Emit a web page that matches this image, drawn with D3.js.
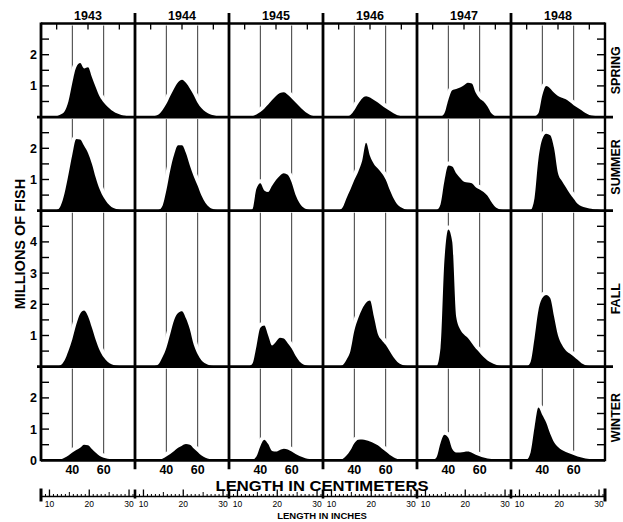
<!DOCTYPE html>
<html><head><meta charset="utf-8">
<script src="https://cdn.jsdelivr.net/npm/d3@7"></script>
<style>body{margin:0;background:#fff} svg{display:block}</style>
</head><body>
<svg id="c" width="623" height="522"></svg>
<script>
// ---------- DATA ----------
const years = ["1943","1944","1945","1946","1947","1948"];
const seasons = ["SPRING","SUMMER","FALL","WINTER"];
const seasonMax = [3,3,5,3];                       // millions of fish, axis top
const yTickLabels = [[1,2],[1,2],[1,2,3,4],[0,1,2]];
const cmTickLabels = [40,60];
const inchTickLabels = [10,20,30];
const lengthsCm = [20,22.5,25,27.5,30,32.5,35,37.5,40,42.5,45,47.5,50,52.5,55,57.5,60,62.5,65,67.5,70,72.5,75,77.5,80];

// millions of fish at each length, one row per year (1943..1948)
const spring = [
  [0,0,0,0.01,0.03,0.08,0.18,0.5,1.1,1.6,1.73,1.56,1.6,1.28,0.95,0.65,0.47,0.33,0.22,0.14,0.09,0.05,0.03,0.01,0],
  [0,0,0,0,0.01,0.03,0.08,0.22,0.42,0.68,0.92,1.12,1.2,1.1,0.92,0.7,0.45,0.28,0.17,0.1,0.06,0.03,0.01,0,0],
  [0,0,0,0,0,0.01,0.03,0.08,0.16,0.27,0.4,0.55,0.68,0.77,0.8,0.72,0.6,0.47,0.34,0.22,0.12,0.05,0.02,0,0],
  [0,0,0,0,0,0,0.02,0.07,0.22,0.43,0.6,0.67,0.63,0.55,0.47,0.37,0.28,0.2,0.12,0.06,0.03,0.01,0,0,0],
  [0,0,0,0,0,0,0.01,0.12,0.55,0.86,0.9,0.95,1.02,1.1,1.08,0.78,0.6,0.5,0.34,0.12,0.03,0.01,0,0,0],
  [0,0,0,0,0,0,0.02,0.12,0.7,1.0,0.92,0.78,0.68,0.62,0.57,0.48,0.38,0.3,0.22,0.13,0.07,0.04,0.02,0.01,0]
];
const summer = [
  [0,0,0,0,0.02,0.15,0.55,1.15,1.8,2.3,2.28,2.08,1.85,1.5,1.05,0.68,0.42,0.24,0.12,0.06,0.03,0.01,0,0,0],
  [0,0,0,0,0,0,0.02,0.15,0.65,1.3,1.8,2.1,2.1,1.85,1.45,1.1,0.8,0.48,0.25,0.11,0.05,0.02,0,0,0],
  [0,0,0,0,0,0,0.05,0.7,0.88,0.65,0.6,0.8,0.98,1.12,1.2,1.15,0.9,0.5,0.25,0.1,0.04,0.01,0,0,0],
  [0,0,0,0,0.01,0.1,0.4,0.68,0.98,1.25,1.6,2.18,1.75,1.5,1.35,1.2,1.0,0.68,0.4,0.2,0.1,0.04,0.01,0,0],
  [0,0,0,0,0,0.02,0.2,0.95,1.45,1.42,1.2,1.05,0.93,0.9,0.88,0.75,0.68,0.6,0.48,0.28,0.12,0.05,0.02,0,0],
  [0,0,0,0,0,0.02,0.4,1.65,2.3,2.47,2.42,2.0,1.2,0.95,0.75,0.55,0.38,0.22,0.14,0.1,0.07,0.05,0.04,0.02,0]
];
const fall = [
  [0,0,0,0,0.01,0.05,0.2,0.5,0.88,1.35,1.7,1.8,1.62,1.25,0.85,0.52,0.3,0.16,0.08,0.04,0.02,0.01,0,0,0],
  [0,0,0,0,0,0.02,0.08,0.3,0.6,1.05,1.5,1.72,1.78,1.55,1.2,0.7,0.4,0.2,0.1,0.05,0.02,0.01,0,0,0],
  [0,0,0,0,0,0.01,0.1,0.65,1.25,1.32,1.0,0.68,0.8,0.93,0.9,0.75,0.58,0.35,0.17,0.07,0.03,0.01,0,0,0],
  [0,0,0,0,0.01,0.05,0.22,0.5,1.15,1.55,1.85,2.05,2.12,1.6,1.05,0.85,0.7,0.5,0.3,0.15,0.07,0.03,0.01,0,0],
  [0,0,0,0,0,0.02,0.6,3.4,4.4,4.0,1.6,1.2,1.03,0.92,0.75,0.58,0.45,0.31,0.2,0.13,0.07,0.03,0.01,0,0],
  [0,0,0,0,0.01,0.15,0.9,1.8,2.2,2.3,2.2,1.6,1.0,0.7,0.52,0.42,0.33,0.22,0.11,0.05,0.02,0.01,0,0,0]
];
const winter = [
  [0,0,0,0,0.01,0.03,0.08,0.15,0.25,0.33,0.4,0.5,0.48,0.36,0.24,0.14,0.08,0.05,0.03,0.02,0.01,0,0,0,0],
  [0,0,0,0,0,0,0.01,0.05,0.12,0.2,0.3,0.4,0.47,0.52,0.5,0.38,0.27,0.15,0.08,0.04,0.02,0.01,0,0,0],
  [0,0,0,0,0,0,0.02,0.12,0.45,0.66,0.52,0.3,0.28,0.33,0.37,0.35,0.28,0.2,0.14,0.09,0.05,0.03,0.01,0,0],
  [0,0,0,0,0.01,0.04,0.15,0.32,0.55,0.66,0.67,0.64,0.6,0.55,0.48,0.38,0.28,0.18,0.1,0.04,0.02,0.01,0,0,0],
  [0,0,0,0,0.01,0.1,0.55,0.82,0.72,0.36,0.25,0.25,0.27,0.28,0.24,0.18,0.13,0.09,0.06,0.04,0.02,0.01,0,0,0],
  [0,0,0,0,0.02,0.25,1.05,1.69,1.45,1.2,0.85,0.58,0.43,0.33,0.27,0.22,0.17,0.12,0.09,0.06,0.04,0.02,0.01,0,0]
];
const seasonValues = [spring, summer, fall, winter];

// ---------- LAYOUT ----------
const L = 41, R = 605, T = 23.5, pxPerM = 31.2;
const FONT = "'Liberation Sans', Arial, sans-serif";
const svg = d3.select("#c");

const xCol = d3.scaleBand().domain(years).range([L, R]);
const colW = xCol.bandwidth();
const xCm = d3.scaleLinear().domain([20, 80]).range([0, colW]);
const inchToCm = 2.54;

const rowTops = [];
{ let acc = T; seasonMax.forEach(m => { rowTops.push(acc); acc += m * pxPerM; }); }
const yScales = seasons.map((s, i) =>
  d3.scaleLinear().domain([0, seasonMax[i]]).range([rowTops[i] + seasonMax[i] * pxPerM, rowTops[i]]));
const bottomY = yScales[3](0);

// ---------- PANELS ----------
seasons.forEach((s, i) => {
  const y = yScales[i];
  years.forEach((yr, j) => {
    const g = svg.append("g").attr("transform", `translate(${xCol(yr)},0)`);
    g.selectAll("line.grid").data(cmTickLabels).join("line")
      .attr("x1", d => xCm(d)).attr("x2", d => xCm(d))
      .attr("y1", y.range()[1] + 2).attr("y2", y(0))
      .attr("stroke", "#222").attr("stroke-width", 0.9);
    const area = d3.area()
      .x((d, k) => xCm(lengthsCm[k]))
      .y0(y(0)).y1(d => y(d))
      .curve(d3.curveMonotoneX);
    const vals = seasonValues[i][j];
    g.append("path").attr("d", area(vals))
      .attr("fill", "#fff").attr("stroke", "#fff").attr("stroke-width", 8).attr("stroke-linejoin", "round");
    g.append("path").attr("d", area(vals)).attr("fill", "#000");
  });
});

// ---------- FRAME ----------
const frame = svg.append("g").attr("stroke", "#000").attr("fill", "none");
seasons.slice(0, 3).forEach((s, i) => {
  frame.append("line").attr("x1", L - 4).attr("x2", R + 8)
    .attr("y1", yScales[i](0)).attr("y2", yScales[i](0)).attr("stroke-width", 2.8);
});
frame.append("line").attr("x1", L).attr("x2", R).attr("y1", bottomY).attr("y2", bottomY).attr("stroke-width", 2.8);
frame.append("line").attr("x1", L).attr("x2", R).attr("y1", T).attr("y2", T).attr("stroke-width", 2.4);
frame.append("line").attr("x1", L).attr("x2", L).attr("y1", T - 1).attr("y2", bottomY + 1).attr("stroke-width", 2.8);
frame.append("line").attr("x1", R).attr("x2", R).attr("y1", T - 1).attr("y2", bottomY + 1).attr("stroke-width", 2.4);
years.slice(1).forEach(yr => {
  frame.append("line").attr("x1", xCol(yr)).attr("x2", xCol(yr))
    .attr("y1", 13).attr("y2", bottomY + 9).attr("stroke-width", 2.8);
});
years.forEach(yr => {
  [30, 50, 70].forEach(cm => {
    frame.append("line").attr("x1", xCol(yr) + xCm(cm)).attr("x2", xCol(yr) + xCm(cm))
      .attr("y1", T).attr("y2", T + 6).attr("stroke-width", 1.3);
  });
});
seasons.forEach((s, i) => {
  const y = yScales[i];
  d3.range(0.5, seasonMax[i], 0.5).forEach(t => {
    frame.append("line").attr("x1", L).attr("x2", L + 8).attr("y1", y(t)).attr("y2", y(t)).attr("stroke-width", 1.4);
    frame.append("line").attr("x1", R - 8).attr("x2", R).attr("y1", y(t)).attr("y2", y(t)).attr("stroke-width", 1.4);
  });
});

// ---------- TEXT ----------
const txt = svg.append("g").attr("font-family", FONT).attr("font-weight", "bold").attr("fill", "#000");
seasons.forEach((s, i) => {
  const y = yScales[i];
  yTickLabels[i].forEach(v => {
    txt.append("text").attr("x", 37).attr("y", y(v)).attr("dy", "0.36em")
      .attr("text-anchor", "end").attr("font-size", 12.5).text(v);
  });
});
years.forEach(yr => {
  txt.append("text").attr("x", xCol(yr) + colW / 2).attr("y", 19.5)
    .attr("text-anchor", "middle").attr("font-size", 12.5).text(yr);
  cmTickLabels.forEach(cm => {
    txt.append("text").attr("x", xCol(yr) + xCm(cm)).attr("y", 474)
      .attr("text-anchor", "middle").attr("font-size", 12.5).text(cm);
  });
});
const seasonLabelOffset = [0, 3, 10, 4];
seasons.forEach((s, i) => {
  const cy = (yScales[i].range()[0] + yScales[i].range()[1]) / 2 + seasonLabelOffset[i];
  txt.append("text").attr("transform", `translate(619.5,${cy}) rotate(-90)`)
    .attr("text-anchor", "middle").attr("font-size", 12.5).text(s);
});
txt.append("text").attr("transform", "translate(25,244) rotate(-90)")
  .attr("text-anchor", "middle").attr("font-size", 14.5).text("MILLIONS OF FISH");
txt.append("text").attr("x", 322).attr("y", 491).attr("text-anchor", "middle")
  .attr("font-size", 15).attr("textLength", 213).attr("lengthAdjust", "spacingAndGlyphs")
  .text("LENGTH IN CENTIMETERS");

// ---------- INCH RULER ----------
const rulerY = 496.5;
const ruler = svg.append("g").attr("stroke", "#000");
ruler.append("line").attr("x1", L).attr("x2", R).attr("y1", rulerY).attr("y2", rulerY).attr("stroke-width", 1.3);
years.forEach(yr => {
  d3.range(8, 32).forEach(inch => {
    const h = inch % 10 === 0 ? 7 : (inch % 5 === 0 ? 4.5 : 2.5);
    const x = xCol(yr) + xCm(inch * inchToCm);
    ruler.append("line").attr("x1", x).attr("x2", x).attr("y1", rulerY - h).attr("y2", rulerY)
      .attr("stroke-width", inch % 10 === 0 ? 1.3 : 1);
  });
  inchTickLabels.forEach(inch => {
    txt.append("text").attr("x", xCol(yr) + xCm(inch * inchToCm)).attr("y", rulerY + 10.5)
      .attr("text-anchor", "middle").attr("font-size", 8.5).attr("font-weight", "normal").text(inch);
  });
});
years.slice(1).forEach(yr => {
  ruler.append("line").attr("x1", xCol(yr)).attr("x2", xCol(yr)).attr("y1", rulerY - 7).attr("y2", rulerY + 2).attr("stroke-width", 2.6);
});
[L, R].forEach(x => {
  ruler.append("line").attr("x1", x).attr("x2", x).attr("y1", rulerY - 8).attr("y2", rulerY + 5).attr("stroke-width", 3);
});
txt.append("text").attr("x", 322).attr("y", 519).attr("text-anchor", "middle")
  .attr("font-size", 9.5).text("LENGTH IN INCHES");
</script>
</body></html>
